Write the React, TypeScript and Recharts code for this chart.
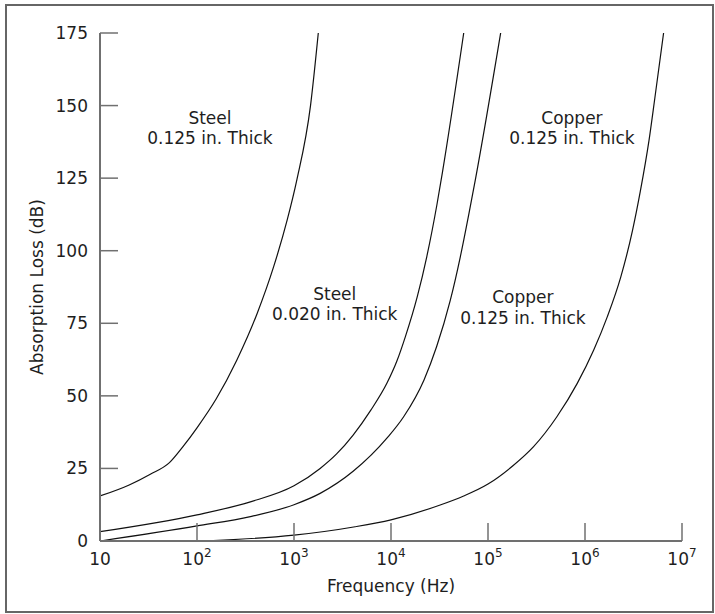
import { LineChart, Line, XAxis, YAxis, ReferenceDot, Label } from "recharts";

// curve readings: frequency (Hz) and absorption loss (dB)
const steelThickFreq = [10, 20, 33, 52, 72, 100, 158, 257, 417, 617, 851, 1070, 1480, 1780];
const steelThickLoss = [15.5, 19.3, 23.0, 27, 32.6, 39, 49, 62.3, 78.4, 94.5, 110.6, 124.4, 150, 175];

const steelThinFreq = [10, 100, 355, 1000, 1860, 2750, 4070, 6170, 9120, 11500, 14100, 18600, 23400, 29800, 33900, 56200];
const steelThinLoss = [3.2, 9.0, 13.5, 19, 25, 30, 36.5, 45, 54.5, 62, 70.5, 84, 98, 116, 127, 175];

const copperMidFreq = [10, 100, 355, 1000, 1860, 4070, 9120, 13500, 21900, 29500, 40700, 51900, 63100, 74100, 135000];
const copperMidLoss = [0, 5.2, 8.4, 12.5, 16.4, 24.0, 35.5, 42.8, 55.5, 66.9, 82.7, 98, 112.2, 124.5, 175];

const copperThickFreq = [100, 1000, 4270, 10000, 31600, 56200, 100000, 182000, 295000, 513000, 832000, 1230000, 1700000, 2340000, 3090000, 3720000, 4570000, 5250000, 6460000];
const copperThickLoss = [0, 2, 4.9, 7.3, 12.3, 15.5, 19.6, 26, 32.5, 42.8, 54.3, 65.8, 77.3, 91, 107, 120.5, 138, 152.6, 175];

const xTicks = [10, 100, 1000, 10000, 100000, 1000000, 10000000];
const yTicks = [0, 25, 50, 75, 100, 125, 150, 175];

const labelTitles = ["Steel", "Steel", "Copper", "Copper"];
const labelSubs = ["0.125 in. Thick", "0.020 in. Thick", "0.125 in. Thick", "0.125 in. Thick"];
const labelFreq = [136, 2630, 734000, 229000];
const labelLoss = [142.3, 81.8, 142.3, 80.6];

const toRows = (f: number[], l: number[]) => f.map((freq, i) => ({ freq, loss: l[i] }));

const series = [
  toRows(steelThickFreq, steelThickLoss),
  toRows(steelThinFreq, steelThinLoss),
  toRows(copperMidFreq, copperMidLoss),
  toRows(copperThickFreq, copperThickLoss)
];

const FONT = "'DejaVu Sans', Verdana, sans-serif";
const TEXT = "#1e1e1e";
const AXIS = "#707070";

const XTick = (props: any) => {
  const { x, y, payload } = props;
  const exp = Math.round(Math.log10(payload.value));
  return (
    <g>
      <line x1={x} x2={x} y1={y} y2={y - 18} stroke={AXIS} strokeWidth={1.5} />
      <text x={x} y={y + 24} textAnchor="middle" fontFamily={FONT} fontSize={17} fill={TEXT}>
        {exp === 1 ? "10" : (
          <>
            <tspan>10</tspan>
            <tspan dy={-8} fontSize={12}>{exp}</tspan>
          </>
        )}
      </text>
    </g>
  );
};

const YTick = (props: any) => {
  const { x, y, payload } = props;
  return (
    <g>
      <line x1={x + 12} x2={x + 30} y1={y} y2={y} stroke={AXIS} strokeWidth={1.5} />
      <text x={x} y={y + 6} textAnchor="end" fontFamily={FONT} fontSize={17} fill={TEXT}>
        {payload.value}
      </text>
    </g>
  );
};

const curveLabel = (i: number) => (p: any) => {
  const cx = p.viewBox.x + p.viewBox.width / 2;
  const cy = p.viewBox.y + p.viewBox.height / 2;
  return (
    <text textAnchor="middle" fontFamily={FONT} fontSize={17} fill={TEXT}>
      <tspan x={cx} y={cy - 4}>{labelTitles[i]}</tspan>
      <tspan x={cx} y={cy + 16.5}>{labelSubs[i]}</tspan>
    </text>
  );
};

export default function App() {
  return (
    <div style={{ position: "fixed", left: 0, top: 0, width: 715, height: 614, background: "#fff" }}>
      <div
        style={{
          position: "absolute",
          left: 5,
          top: 4,
          width: 709,
          height: 609,
          boxSizing: "border-box",
          border: "2px solid #666"
        }}
      />
      <div style={{ position: "absolute", left: 0, top: 0 }}>
        <LineChart width={715} height={614} margin={{ top: 33, right: 33, bottom: 0, left: 0 }}>
          <XAxis
            dataKey="freq"
            type="number"
            scale="log"
            domain={[10, 10000000]}
            ticks={xTicks}
            allowDataOverflow
            height={73}
            tickSize={0}
            tickMargin={0}
            tickLine={false}
            tick={<XTick />}
            axisLine={{ stroke: AXIS, strokeWidth: 2 }}
          >
            <Label
              content={(p: any) => (
                <text
                  x={p.viewBox.x + p.viewBox.width / 2}
                  y={p.viewBox.y + 51}
                  textAnchor="middle"
                  fontFamily={FONT}
                  fontSize={17}
                  fill={TEXT}
                >
                  Frequency (Hz)
                </text>
              )}
            />
          </XAxis>
          <XAxis
            xAxisId="top"
            orientation="top"
            type="number"
            domain={[0, 1]}
            height={0}
            tick={false}
            tickLine={false}
            axisLine={{ stroke: AXIS, strokeWidth: 2 }}
          />
          <YAxis
            type="number"
            domain={[0, 175]}
            ticks={yTicks}
            allowDataOverflow
            width={100}
            tickSize={0}
            tickMargin={12}
            tickLine={false}
            tick={<YTick />}
            axisLine={{ stroke: AXIS, strokeWidth: 2 }}
          >
            <Label
              content={(p: any) => {
                const cx = p.viewBox.x + 37;
                const cy = p.viewBox.y + p.viewBox.height / 2;
                return (
                  <text
                    x={cx}
                    y={cy}
                    transform={`rotate(-90 ${cx} ${cy})`}
                    textAnchor="middle"
                    dominantBaseline="central"
                    fontFamily={FONT}
                    fontSize={17}
                    fill={TEXT}
                  >
                    Absorption Loss (dB)
                  </text>
                );
              }}
            />
          </YAxis>
          <YAxis
            yAxisId="right"
            orientation="right"
            type="number"
            domain={[0, 1]}
            width={0}
            tick={false}
            tickLine={false}
            axisLine={{ stroke: AXIS, strokeWidth: 2 }}
          />
          {series.map((rows, i) => (
            <Line
              key={i}
              data={rows}
              dataKey="loss"
              type="monotone"
              stroke="#111"
              strokeWidth={1.2}
              dot={false}
              isAnimationActive={false}
            />
          ))}
          {labelFreq.map((f, i) => (
            <ReferenceDot
              key={"l" + i}
              x={f}
              y={labelLoss[i]}
              r={0}
              fill="none"
              stroke="none"
              label={{ content: curveLabel(i) }}
            />
          ))}
        </LineChart>
      </div>
    </div>
  );
}
